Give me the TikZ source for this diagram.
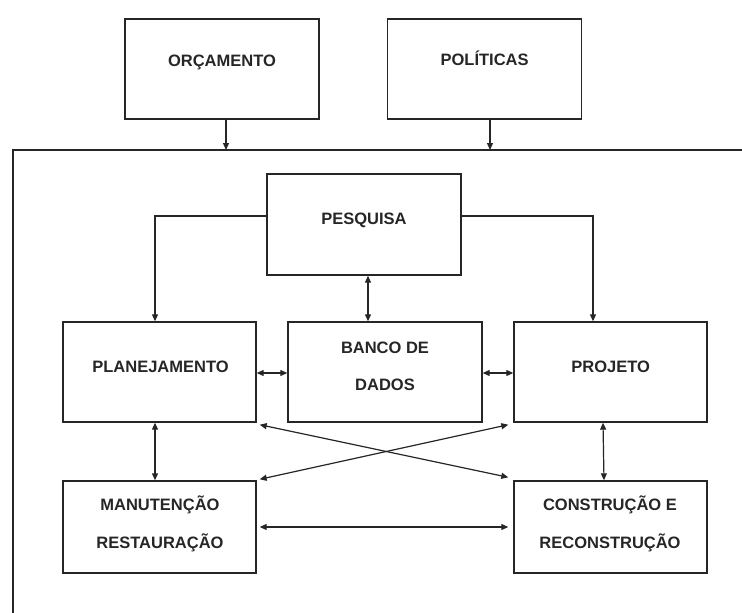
\documentclass[tikz,border=0pt]{standalone}
\usepackage{fontspec}
\setmainfont{Liberation Sans}
\usetikzlibrary{arrows.meta,calc}
\tikzset{
  box/.style={draw=black!85, line width=1.4pt, rectangle, minimum width=194pt, minimum height=100pt, inner sep=0pt},
  lbl/.style={font=\fontsize{16.5}{37.5}\selectfont\bfseries, text=black!85, inner sep=0pt, align=center},
  conn/.style={draw=black!85, line width=1.2pt},
  arr/.style={conn, -{Triangle[length=7pt,width=6pt]}},
  darr/.style={conn, {Triangle[length=7pt,width=6pt]}-{Triangle[length=7pt,width=6pt]}},
  frame/.style={draw=black!85, line width=1.3pt}
}
\begin{document}
\begin{tikzpicture}[x=1pt,y=-1pt]
\useasboundingbox (0,0) rectangle (742,613);
\fill[white] (0,0) rectangle (742,613);
% frame
\coordinate (fr) at (742,150);
\coordinate (fc) at (13,150);
\coordinate (fb) at (13,613);
\draw[frame] (fr) -- (fc) -- (fb);
% boxes
\node[box] (orc) at (222,69) {};
\node[box] (pol) at (484.5,69) {};
\node[box, minimum height=101pt] (pes) at (364,224.5) {};
\node[box, minimum width=193pt] (pla) at (159.5,372) {};
\node[box] (ban) at (385,372) {};
\node[box, minimum width=193pt] (pro) at (610.5,372) {};
\node[box, minimum width=193pt, minimum height=92pt] (man) at (159.5,527) {};
\node[box, minimum width=193pt, minimum height=92pt] (con) at (610.5,527) {};
% labels
\node[lbl] (orct) at (222,62) {ORÇAMENTO};
\node[lbl] (polt) at (484.6,58) {POLÍTICAS};
\node[lbl] (pest) at (364,220) {PESQUISA};
\node[lbl] (plat) at (160.5,367) {PLANEJAMENTO};
\node[lbl] (bant) at (385,366.5) {BANCO DE\\DADOS};
\node[lbl] (prot) at (610.7,367) {PROJETO};
\node[lbl] (mant) at (160,524) {MANUTENÇÃO\\RESTAURAÇÃO};
\node[lbl] (cont) at (610,524) {CONSTRUÇÃO E\\RECONSTRUÇÃO};
% top arrows
\coordinate (a1) at (226,150);
\coordinate (a2) at (490,150);
\draw[arr] (a1 |- orc.south) -- (a1);
\draw[arr] (a2 |- pol.south) -- (a2);
% pesquisa connectors
\draw[arr] ([yshift=8.5pt]pes.west) -| ([xshift=-4.5pt]pla.north);
\draw[arr] ([yshift=8.5pt]pes.east) -| ([xshift=-17.5pt]pro.north);
\draw[darr] ([xshift=4pt]pes.south) -- ([xshift=4pt]pes.south |- ban.north);
% middle row
\draw[darr] ([yshift=-1pt]pla.east) -- ([yshift=-1pt]ban.west);
\draw[darr] ([yshift=-1pt]ban.east) -- ([yshift=-1pt]pro.west);
% verticals
\draw[darr] ([xshift=-4.5pt]pla.south) -- ([xshift=-4.5pt]man.north);
\draw[darr] ([xshift=-7.5pt]pro.south) -- ([xshift=-6.5pt]con.north);
% crosses
\draw[darr] ([shift={(3pt,-2pt)}]pla.south east) -- ([shift={(-5pt,3pt)}]con.north west);
\draw[darr] ([shift={(-5pt,-2pt)}]pro.south west) -- ([shift={(3pt,1pt)}]man.north east);
% bottom
\draw[darr] ([xshift=3pt]man.east) -- ([xshift=-5pt]con.west);
\end{tikzpicture}
\end{document}
